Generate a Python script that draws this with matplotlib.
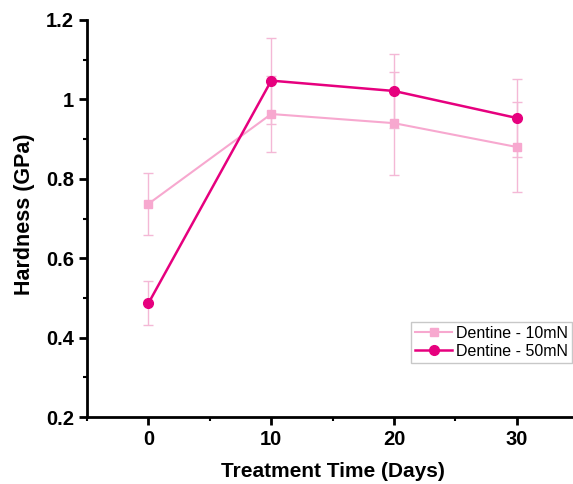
import matplotlib
matplotlib.use("Agg")
import matplotlib.pyplot as plt
from matplotlib.ticker import MultipleLocator

# Дані
days = [0, 10, 20, 30]
hard_10mN = [0.737, 0.963, 0.940, 0.880]
err_10mN = [0.078, 0.095, 0.130, 0.113]
hard_50mN = [0.487, 1.047, 1.021, 0.953]
err_50mN = [0.055, 0.108, 0.093, 0.098]

plt.rcParams['font.family'] = ['Liberation Sans', 'DejaVu Sans']

fig = plt.figure(figsize=(5.73, 4.84), dpi=100)
ax = fig.add_axes([0.152, 0.138, 0.857, 0.821])

light = "#f7a8cf"
deep = "#e6007e"
err_col = "#f4b8d6"

# Похибки окремо, щоб у легенді були лише лінії з маркерами
ax.errorbar(days, hard_10mN, yerr=err_10mN, fmt="none", ecolor=err_col,
            elinewidth=1, capsize=3.5, capthick=1)
ax.errorbar(days, hard_50mN, yerr=err_50mN, fmt="none", ecolor=err_col,
            elinewidth=1, capsize=3.5, capthick=1)
ax.plot(days, hard_10mN, color=light, marker="s", markersize=6,
        linewidth=1.5, label="Dentine - 10mN")
ax.plot(days, hard_50mN, color=deep, marker="o", markersize=7,
        linewidth=1.8, label="Dentine - 50mN")

ax.set_xlim(-5, 35)
ax.set_ylim(0.2, 1.2)
ax.set_xticks([0, 10, 20, 30])
ax.set_yticks([0.2, 0.4, 0.6, 0.8, 1.0, 1.2])
ax.set_yticklabels(["0.2", "0.4", "0.6", "0.8", "1", "1.2"])
ax.xaxis.set_minor_locator(MultipleLocator(5))
ax.yaxis.set_minor_locator(MultipleLocator(0.1))

for s in ["top", "right"]:
    ax.spines[s].set_visible(False)
for s in ["left", "bottom"]:
    ax.spines[s].set_linewidth(2)

ax.tick_params(which="major", direction="out", length=6, width=2, labelsize=14.5)
ax.tick_params(which="minor", direction="out", length=3, width=1.5)
for lab in ax.get_xticklabels() + ax.get_yticklabels():
    lab.set_fontweight("bold")

ax.set_xlabel("Treatment Time (Days)", fontsize=15, fontweight="bold")
ax.set_ylabel("Hardness (GPa)", fontsize=15.5, fontweight="bold")
ax.xaxis.set_label_coords(0.5, -0.113)
ax.yaxis.set_label_coords(-0.106, 0.51)

# Легенда прив'язана до фігури, бо вісь виходить за правий край
leg = ax.legend(loc="upper right", bbox_to_anchor=(0.998, 0.335),
                bbox_transform=fig.transFigure, fontsize=11.5,
                frameon=True, fancybox=False, borderpad=0.25, handlelength=2.3,
                handletextpad=0.25, labelspacing=0.2, borderaxespad=0)
leg.get_frame().set_edgecolor("#bbbbbb")
leg.get_frame().set_linewidth(1)

fig.savefig("out.png", dpi=100)
